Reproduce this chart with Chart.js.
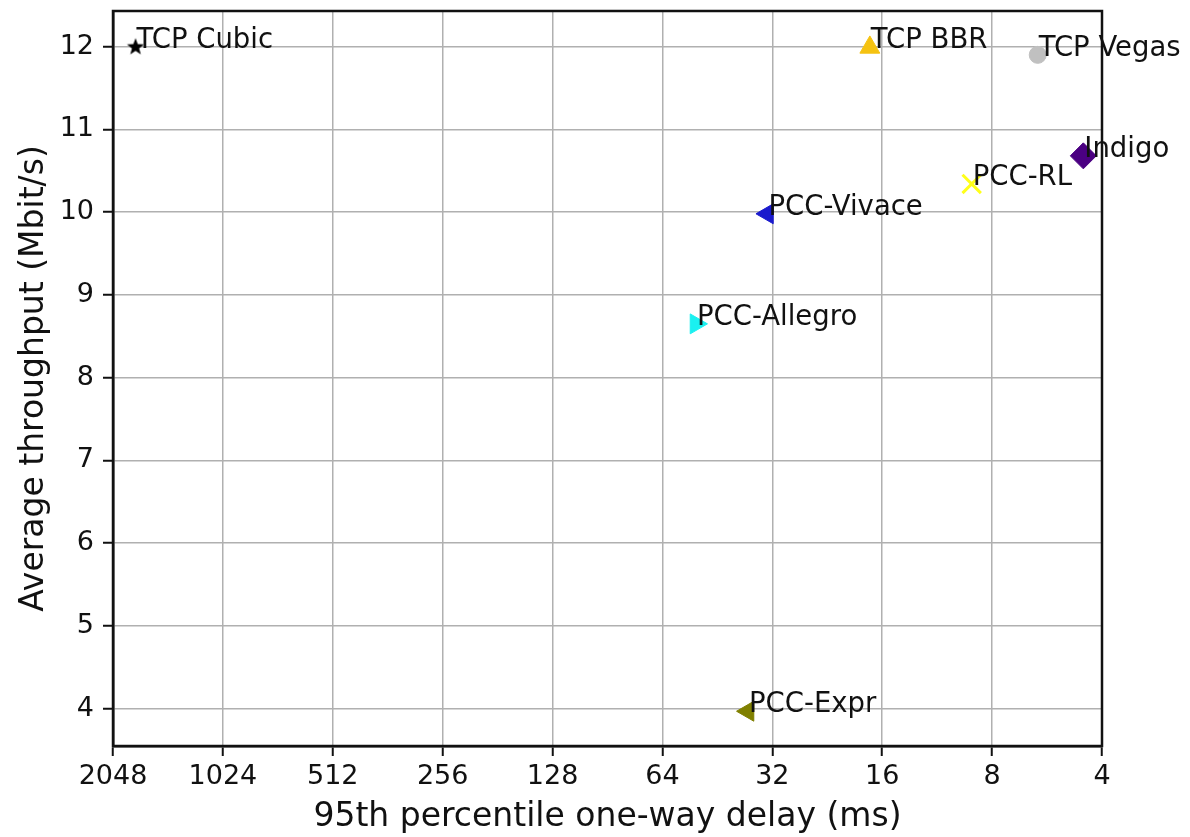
<!DOCTYPE html>
<html>
<head>
<meta charset="utf-8">
<script src="https://cdn.jsdelivr.net/npm/chart.js@4.4.1/dist/chart.umd.min.js"></script>
<style>
html, body { margin: 0; padding: 0; background: #fff; }
</style>
</head>
<body>
<canvas id="grafico" width="1190" height="837"></canvas>
<script>
var protocolos = ["TCP Cubic", "TCP BBR", "TCP Vegas", "Indigo", "PCC-RL", "PCC-Vivace", "PCC-Allegro", "PCC-Expr"];
var atrasos = [1777, 17.3, 6.0, 4.5, 9.1, 33.0, 51.8, 37.3];
var vazoes = [12.0, 11.99, 11.9, 10.68, 10.34, 9.98, 8.65, 3.97];
var cores = ["#000000", "#f5c211", "#c0c0c0", "#4b0082", "#ffff1a", "#1a1acd", "#1af0f0", "#808000"];
var formas = ["estrela", "triangle", "circle", "rectRot", "crossRot", "esquerda", "direita", "esquerda"];
var ticksX = [2048, 1024, 512, 256, 128, 64, 32, 16, 8, 4];
var ticksY = [4, 5, 6, 7, 8, 9, 10, 11, 12];

var fonte = "'DejaVu Sans', sans-serif";

// estrela preenchida (o Chart.js so tem a estrela de tracos)
function criarEstrela(cor) {
    var c = document.createElement('canvas');
    c.width = 20; c.height = 20;
    var g = c.getContext('2d');
    g.fillStyle = cor;
    g.beginPath();
    for (var i = 0; i < 10; i++) {
        var r = (i % 2 === 0) ? 9 : 3.8;
        var a = -Math.PI / 2 + i * Math.PI / 5;
        var px = 10 + r * Math.cos(a), py = 10.5 + r * Math.sin(a);
        if (i === 0) g.moveTo(px, py); else g.lineTo(px, py);
    }
    g.closePath();
    g.fill();
    return c;
}

var conjuntos = protocolos.map(function (nome, i) {
    var forma = formas[i];
    var estilo = forma, rotacao = 0, raio = 11.5, borda = 1;
    if (forma === 'estrela') { estilo = criarEstrela(cores[i]); }
    if (forma === 'esquerda') { estilo = 'triangle'; rotacao = -90; }
    if (forma === 'direita') { estilo = 'triangle'; rotacao = 90; }
    if (forma === 'circle') { raio = 8.5; }
    if (forma === 'rectRot') { raio = 13; }
    if (forma === 'crossRot') { raio = 13; borda = 3; }
    return {
        label: nome,
        data: [{ x: atrasos[i], y: vazoes[i] }],
        pointStyle: estilo,
        pointRotation: rotacao,
        pointRadius: raio,
        pointBackgroundColor: cores[i],
        pointBorderColor: cores[i],
        pointBorderWidth: borda,
        clip: false
    };
});

// moldura em cima e a direita
var moldura = {
    id: 'moldura',
    afterDraw: function (chart) {
        var a = chart.chartArea, g = chart.ctx;
        g.save();
        g.strokeStyle = '#111';
        g.lineWidth = 2.5;
        g.strokeRect(a.left, a.top, a.right - a.left, a.bottom - a.top);
        g.restore();
    }
};

// nomes ao lado de cada ponto
var rotulos = {
    id: 'rotulos',
    afterDatasetsDraw: function (chart) {
        var g = chart.ctx;
        g.save();
        g.font = '27.5px ' + fonte;
        g.fillStyle = '#111';
        g.textAlign = 'left';
        g.textBaseline = 'alphabetic';
        chart.data.datasets.forEach(function (ds, i) {
            var p = chart.getDatasetMeta(i).data[0];
            g.fillText(ds.label, p.x + 1, p.y + 1);
        });
        g.restore();
    }
};

var contexto = document.getElementById('grafico').getContext('2d');
var grafico = new Chart(contexto, {
    type: 'scatter',
    data: { datasets: conjuntos },
    options: {
        responsive: false,
        animation: false,
        layout: { autoPadding: false, padding: { top: 11, right: 88, left: 0, bottom: 0 } },
        plugins: { legend: { display: false }, tooltip: { enabled: false } },
        scales: {
            x: {
                type: 'logarithmic',
                reverse: true,
                min: 4,
                max: 2048,
                afterBuildTicks: function (eixo) {
                    eixo.ticks = ticksX.map(function (v) { return { value: v }; });
                },
                afterFit: function (eixo) {
                    eixo.height = 91;
                    eixo.paddingLeft = 0;
                    eixo.paddingRight = 0;
                },
                ticks: {
                    callback: function (v) { return String(v); },
                    font: { family: fonte, size: 27 },
                    color: '#111',
                    padding: 5,
                    maxRotation: 0,
                    autoSkip: false
                },
                grid: { color: '#b0b0b0', lineWidth: 1.5, tickColor: '#111', tickLength: 10, tickWidth: 2 },
                border: { color: '#111', width: 2.5 },
                title: {
                    display: true,
                    text: '95th percentile one-way delay (ms)',
                    font: { family: fonte, size: 33 },
                    color: '#111',
                    padding: { top: 0, bottom: 0 }
                }
            },
            y: {
                min: 3.55,
                max: 12.43,
                afterBuildTicks: function (eixo) {
                    eixo.ticks = ticksY.map(function (v) { return { value: v }; });
                },
                afterFit: function (eixo) {
                    eixo.width = 113;
                    eixo.paddingTop = 0;
                    eixo.paddingBottom = 0;
                },
                ticks: {
                    font: { family: fonte, size: 27 },
                    color: '#111',
                    padding: 9
                },
                grid: { color: '#b0b0b0', lineWidth: 1.5, tickColor: '#111', tickLength: 10, tickWidth: 2 },
                border: { color: '#111', width: 2.5 },
                title: {
                    display: true,
                    text: 'Average throughput (Mbit/s)',
                    font: { family: fonte, size: 33 },
                    color: '#111',
                    padding: { top: 15, bottom: 0 }
                }
            }
        }
    },
    plugins: [moldura, rotulos]
});
</script>
</body>
</html>
